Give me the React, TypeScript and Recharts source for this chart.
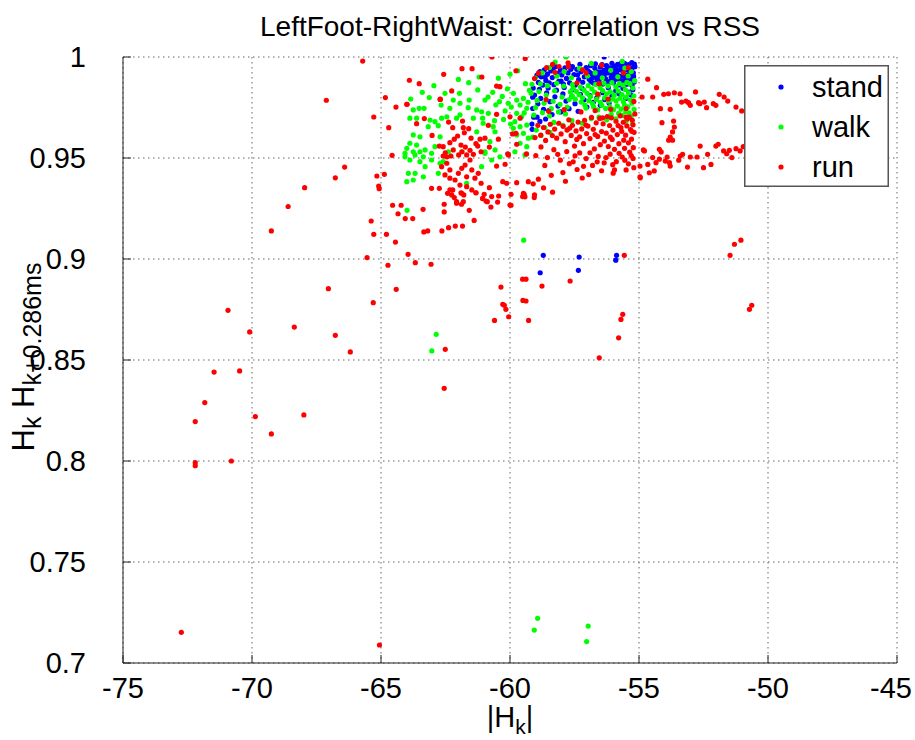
import React from 'react';
import { ScatterChart, Scatter, XAxis, YAxis, CartesianGrid, Legend, Label } from 'recharts';

// axis ticks
const xTicks = [-75, -70, -65, -60, -55, -50, -45];
const yTicks = [0.7, 0.75, 0.8, 0.85, 0.9, 0.95, 1];
const legendOrder = ['stand', 'walk', 'run'];

// stand (blue) — dense block top right plus a few strays
const standPoints: [number, number][] = [
  [-55.18, 0.9965], [-55.25, 0.9948], [-55.22, 0.9921], [-55.3, 0.9897], [-55.19, 0.9876], [-55.27, 0.9859],
  [-55.36, 0.9935], [-55.41, 0.9962], [-55.44, 0.9912], [-55.39, 0.9884], [-55.5, 0.9941], [-55.52, 0.9898],
  [-55.57, 0.9969], [-55.6, 0.9925], [-55.63, 0.9871], [-55.68, 0.9952], [-55.71, 0.9906], [-55.74, 0.9884],
  [-55.8, 0.9937], [-55.83, 0.9963], [-55.86, 0.9893], [-55.92, 0.9918], [-55.96, 0.9955], [-55.99, 0.9872],
  [-56.04, 0.9931], [-56.08, 0.9899], [-56.12, 0.9946], [-56.17, 0.9878], [-56.2, 0.9921], [-56.26, 0.9958],
  [-56.3, 0.9893], [-56.35, 0.9935], [-56.4, 0.9866], [-56.45, 0.9912], [-56.5, 0.9951], [-56.55, 0.9883],
  [-56.6, 0.9927], [-56.66, 0.9899], [-56.71, 0.9944], [-56.76, 0.9871], [-56.82, 0.9916], [-56.88, 0.9957],
  [-56.93, 0.989], [-56.98, 0.9931], [-55.33, 0.9888], [-55.47, 0.9865], [-55.55, 0.9912], [-55.66, 0.9935],
  [-55.77, 0.9862], [-55.89, 0.9941], [-56.01, 0.9908], [-56.14, 0.9923], [-56.24, 0.9874], [-56.37, 0.9901],
  [-56.48, 0.9925], [-56.63, 0.9876], [-56.79, 0.9899], [-56.91, 0.9924], [-55.21, 0.9904], [-55.28, 0.9972],
  [-55.46, 0.9938], [-55.58, 0.9882], [-55.7, 0.9968], [-55.85, 0.9915], [-56.05, 0.9969], [-56.22, 0.9943],
  [-56.43, 0.9962], [-56.69, 0.9966], [-55.35, 0.9916], [-55.64, 0.9905], [-55.95, 0.9886], [-56.32, 0.9918],
  [-56.57, 0.9905], [-56.86, 0.9878], [-55.24, 0.9838], [-55.4, 0.9826], [-55.62, 0.9845], [-55.9, 0.9832],
  [-56.19, 0.9848], [-55.31, 0.9812], [-55.51, 0.9795], [-56.41, 0.9823], [-56.05, 0.9807], [-55.78, 0.9819],
  [-57.05, 0.9948], [-57.12, 0.9902], [-57.18, 0.9875], [-57.25, 0.9927], [-57.29, 0.9964], [-57.34, 0.9888],
  [-57.41, 0.9939], [-57.47, 0.9861], [-57.52, 0.9913], [-57.58, 0.9952], [-57.64, 0.9939], [-57.69, 0.9872],
  [-57.75, 0.9921], [-57.81, 0.9894], [-57.87, 0.9946], [-57.93, 0.9866], [-57.99, 0.9911], [-58.05, 0.9935],
  [-58.11, 0.9879], [-58.17, 0.9918], [-58.24, 0.9952], [-58.3, 0.9863], [-58.36, 0.9898], [-58.42, 0.9931],
  [-58.48, 0.9872], [-58.55, 0.9915], [-58.61, 0.9884], [-58.67, 0.9937], [-58.73, 0.9861], [-58.79, 0.9902],
  [-58.84, 0.9927], [-58.9, 0.9874], [-58.96, 0.9909], [-57.21, 0.9845], [-57.56, 0.9838], [-57.9, 0.9849],
  [-58.2, 0.9836], [-58.52, 0.9847], [-58.86, 0.984], [-57.38, 0.9912], [-57.72, 0.9958], [-58.02, 0.9881],
  [-58.33, 0.9943], [-58.64, 0.9901], [-59.05, 0.9812], [-58.92, 0.9768], [-58.81, 0.9795], [-58.7, 0.9741],
  [-58.58, 0.9822], [-58.45, 0.9779], [-58.37, 0.9715], [-58.26, 0.9803], [-58.14, 0.9757], [-58.03, 0.9728],
  [-57.95, 0.9817], [-57.83, 0.9782], [-57.71, 0.9744], [-57.6, 0.9806], [-57.48, 0.9769], [-57.36, 0.9731],
  [-57.27, 0.9815], [-57.13, 0.9788], [-57.02, 0.9752], [-56.9, 0.9809], [-56.77, 0.9776], [-56.64, 0.9797],
  [-56.5, 0.9761], [-56.33, 0.9789], [-56.16, 0.9772], [-58.95, 0.9702], [-58.62, 0.9693], [-58.84, 0.9681],
  [-59.12, 0.9745], [-58.5, 0.9735], [-59.14, 0.9642], [-59.1, 0.9846], [-59.12, 0.9801], [-59.08, 0.9702],
  [-59.15, 0.9668], [-56.35, 1.0], [-55.57, 0.9969], [-55.16, 0.9952], [-58.84, 0.9927],
  [-58.71, 0.9018], [-58.83, 0.8932], [-57.32, 0.901], [-57.35, 0.8944], [-55.87, 0.9018], [-55.9, 0.8994],
];

// walk (green) — cloud from -64 to -55 plus outliers
const walkPoints: [number, number][] = [
  [-55.17, 0.9883], [-55.24, 0.9846], [-55.2, 0.9807], [-55.27, 0.9771], [-55.19, 0.9741], [-55.31, 0.9706],
  [-55.35, 0.9868], [-55.4, 0.9822], [-55.33, 0.9787], [-55.43, 0.9753], [-55.38, 0.9724], [-55.47, 0.9874],
  [-55.53, 0.9839], [-55.5, 0.9801], [-55.56, 0.9762], [-55.51, 0.9729], [-55.62, 0.9861], [-55.66, 0.9814],
  [-55.6, 0.9779], [-55.69, 0.9742], [-55.65, 0.9711], [-55.76, 0.9869], [-55.81, 0.9832], [-55.74, 0.9796],
  [-55.84, 0.9758], [-55.79, 0.9721], [-55.9, 0.9852], [-55.96, 0.9811], [-55.89, 0.9783], [-55.99, 0.9739],
  [-56.05, 0.9873], [-56.11, 0.9827], [-56.03, 0.9792], [-56.13, 0.9755], [-56.08, 0.9716], [-56.2, 0.9856],
  [-56.26, 0.9818], [-56.18, 0.9781], [-56.29, 0.9745], [-56.36, 0.9871], [-56.41, 0.9834], [-56.33, 0.9798],
  [-56.44, 0.9761], [-56.51, 0.9848], [-56.57, 0.9812], [-56.49, 0.9776], [-56.6, 0.9738], [-56.68, 0.9864],
  [-56.72, 0.9826], [-56.65, 0.979], [-56.76, 0.9753], [-56.83, 0.9842], [-56.88, 0.9804], [-56.8, 0.9769],
  [-56.97, 0.9858], [-57.01, 0.982], [-56.94, 0.9784], [-57.06, 0.9747], [-57.13, 0.9836], [-57.19, 0.9798],
  [-57.1, 0.9762], [-57.27, 0.9851], [-57.32, 0.9813], [-57.24, 0.9777], [-57.42, 0.9829], [-57.47, 0.9791],
  [-57.55, 0.9843], [-57.59, 0.9806], [-55.3, 0.9928], [-55.55, 0.9945], [-55.82, 0.9902], [-56.1, 0.9934],
  [-56.42, 0.9897], [-56.7, 0.9921], [-57.0, 0.9906], [-57.31, 0.9944], [-57.62, 0.9897], [-57.9, 0.9928],
  [-58.18, 0.9905], [-58.47, 0.9948], [-58.75, 0.9921], [-59.02, 0.9896], [-57.83, 1.0], [-58.25, 0.9975],
  [-56.85, 0.9968], [-55.65, 0.9978], [-55.42, 0.9906], [-57.58, 0.9863], [-57.66, 0.9827], [-57.71, 0.9789],
  [-57.78, 0.9752], [-57.85, 0.9718], [-57.92, 0.9856], [-57.98, 0.9802], [-58.06, 0.9765], [-58.12, 0.9728],
  [-58.19, 0.987], [-58.27, 0.9833], [-58.33, 0.9781], [-58.4, 0.9744], [-58.47, 0.9708], [-58.55, 0.9858],
  [-58.6, 0.9812], [-58.68, 0.9771], [-58.74, 0.9725], [-58.82, 0.9867], [-58.88, 0.9829], [-58.95, 0.9785],
  [-59.01, 0.9749], [-59.08, 0.9712], [-59.15, 0.9865], [-59.18, 0.9821], [-57.6, 0.9685], [-57.95, 0.9662],
  [-58.3, 0.9676], [-58.65, 0.9651], [-58.98, 0.9638], [-59.12, 0.9603], [-58.8, 0.9612], [-58.45, 0.9627],
  [-57.77, 0.9641], [-57.2, 0.9672], [-56.85, 0.9695], [-56.55, 0.9702], [-56.25, 0.9689], [-55.9, 0.9694],
  [-55.5, 0.9683], [-55.25, 0.9668], [-60.1, 0.9842], [-60.3, 0.9805], [-60.55, 0.9763], [-59.95, 0.9752],
  [-60.25, 0.9691], [-59.98, 0.9668], [-60.6, 0.9685], [-60.85, 0.9802], [-59.4, 0.9868], [-59.25, 0.9835],
  [-59.3, 0.9776], [-59.45, 0.9723], [-60.0, 0.9915], [-60.45, 0.9895], [-59.7, 0.9932], [-61.2, 0.9901],
  [-61.6, 0.9873], [-62.0, 0.9889], [-62.95, 0.9858], [-63.4, 0.9825], [-63.85, 0.9792],
  [-62.52, 0.982], [-61.96, 0.982], [-61.25, 0.9837], [-60.67, 0.9825], [-63.13, 0.9799], [-62.2, 0.9787],
  [-61.58, 0.9787], [-60.41, 0.9779], [-60.97, 0.9787], [-62.67, 0.9762], [-61.94, 0.9771], [-63.75, 0.9738],
  [-63.52, 0.9746], [-63.33, 0.9746], [-62.33, 0.9746], [-61.62, 0.9749], [-61.29, 0.9738], [-61.1, 0.9729],
  [-60.84, 0.9721], [-60.19, 0.9733], [-60.07, 0.9771], [-59.87, 0.982], [-59.74, 0.9787], [-59.61, 0.9762],
  [-59.48, 0.9795], [-59.35, 0.9746], [-59.74, 0.9721], [-59.55, 0.9704], [-59.81, 0.968], [-59.61, 0.9655],
  [-59.35, 0.9663], [-59.87, 0.9647], [-59.74, 0.9614], [-59.48, 0.9622], [-59.29, 0.9598], [-59.61, 0.9573],
  [-59.35, 0.9556], [-63.88, 0.9697], [-63.62, 0.9697], [-63.1, 0.9688], [-62.91, 0.968], [-63.17, 0.9655],
  [-62.78, 0.966], [-62.65, 0.9697], [-62.45, 0.9704], [-62.07, 0.9697], [-61.94, 0.9713], [-61.42, 0.9697],
  [-61.06, 0.9697], [-61.04, 0.9672], [-60.65, 0.9655], [-60.58, 0.963], [-61.29, 0.963], [-63.75, 0.9614],
  [-63.49, 0.9605], [-63.88, 0.9573], [-63.62, 0.9564], [-64.0, 0.9548], [-63.75, 0.9531], [-63.29, 0.954],
  [-63.04, 0.9523], [-62.91, 0.9556], [-63.36, 0.9506], [-64.07, 0.9506], [-62.71, 0.9605], [-60.97, 0.9523],
  [-60.58, 0.954], [-60.39, 0.9506], [-60.78, 0.9581], [-64.07, 0.9523], [-63.68, 0.9515], [-63.49, 0.9531],
  [-63.88, 0.949], [-63.49, 0.9482], [-63.04, 0.949], [-63.29, 0.9457], [-63.94, 0.9424], [-63.68, 0.9424],
  [-63.36, 0.9407], [-64.0, 0.9383], [-63.75, 0.9391], [-62.78, 0.9424], [-62.71, 0.9474], [-62.59, 0.9482],
  [-62.39, 0.9531], [-61.87, 0.9531], [-61.1, 0.9457], [-60.97, 0.9531], [-60.71, 0.949], [-59.81, 0.9531],
  [-59.42, 0.9515], [-61.68, 0.9375], [-63.99, 0.9241],
  [-59.47, 0.9093], [-62.86, 0.8627], [-63.03, 0.8545],
  [-58.93, 0.7221], [-59.06, 0.7163], [-56.97, 0.7183], [-57.03, 0.7106],
];

// run (red) — scattered outliers on the left and below
const runSparse: [number, number][] = [
  [-72.74, 0.7152], [-65.06, 0.7089], [-72.2, 0.7992], [-72.2, 0.7977], [-70.8, 0.8], [-69.25, 0.8134],
  [-72.2, 0.8195], [-69.87, 0.822], [-67.99, 0.8228], [-71.83, 0.8289], [-71.47, 0.844], [-70.48, 0.8446],
  [-66.19, 0.854], [-66.77, 0.8622], [-68.36, 0.8663], [-70.09, 0.8639], [-70.93, 0.8746], [-65.3, 0.8784],
  [-67.04, 0.8853], [-62.55, 0.836], [-62.51, 0.8553], [-69.25, 0.9139], [-68.6, 0.926], [-67.96, 0.9353],
  [-66.77, 0.9402], [-66.41, 0.9455], [-67.12, 0.9786], [-65.38, 0.9188], [-65.28, 0.9122], [-65.54, 0.9007],
  [-64.79, 0.9122], [-64.44, 0.9084], [-64.73, 0.8969], [-64.41, 0.885], [-64.55, 0.9266], [-64.22, 0.9266],
  [-64.34, 0.9224], [-64.06, 0.92], [-63.77, 0.92], [-63.95, 0.9023], [-63.67, 0.8982], [-63.06, 0.8974],
  [-63.37, 0.9246], [-63.34, 0.9134], [-63.19, 0.9139], [-62.64, 0.9139], [-62.38, 0.9155], [-62.12, 0.9163],
  [-61.84, 0.9163], [-61.39, 0.9191], [-62.55, 0.9233], [-62.55, 0.9271], [-61.58, 0.9241], [-61.88, 0.9271],
  [-62.07, 0.9284], [-62.42, 0.9325], [-62.22, 0.9342], [-62.16, 0.9304], [-61.9, 0.9328], [-61.79, 0.9317],
  [-61.32, 0.9328], [-61.06, 0.9299], [-61.0, 0.932], [-60.93, 0.9287], [-60.74, 0.9257], [-60.44, 0.9312],
  [-60.48, 0.9282], [-59.96, 0.932], [-59.96, 0.9266], [-59.51, 0.9309], [-59.45, 0.932], [-59.06, 0.9304],
  [-55.57, 0.9018], [-59.51, 0.89], [-59.38, 0.89], [-58.76, 0.8866], [-57.67, 0.8891], [-60.35, 0.8861],
  [-59.5, 0.8795], [-59.38, 0.8792], [-60.28, 0.8776], [-60.22, 0.8771], [-60.16, 0.8751], [-60.05, 0.8714],
  [-60.6, 0.8696], [-59.28, 0.8696], [-55.63, 0.8726], [-55.7, 0.8701], [-55.79, 0.861], [-56.54, 0.8511],
  [-51.47, 0.9018], [-51.3, 0.9073], [-51.05, 0.9093], [-50.72, 0.8751], [-50.63, 0.8771],
  [-65.71, 0.998], [-60.7, 1.0], [-59.41, 0.9993], [-64.83, 0.9799], [-64.42, 0.9752], [-65.28, 0.9703],
  [-64.7, 0.965], [-64.57, 0.9513], [-65.16, 0.9411], [-64.87, 0.9419], [-65.09, 0.9361], [-65.07, 0.9348],
  [-63.9, 0.9885], [-63.52, 0.9868], [-62.57, 0.9914], [-61.86, 0.9942], [-61.47, 0.9942], [-61.09, 0.9901],
  [-63.99, 0.9766], [-62.7, 0.9791], [-59.77, 0.9932], [-60.52, 0.9856],
];

// run (red) — loops to the right of -55
const runRight: [number, number][] = [
  [-54.66, 0.989], [-54.32, 0.9848], [-54.88, 0.9802], [-54.47, 0.9802], [-54.04, 0.9815], [-53.86, 0.9818],
  [-53.63, 0.9823], [-53.41, 0.9818], [-52.81, 0.9827], [-53.35, 0.9777], [-53.18, 0.9782], [-53.08, 0.9774],
  [-52.69, 0.9774], [-52.47, 0.9777], [-51.89, 0.9815], [-51.7, 0.9802], [-51.56, 0.9782], [-53.01, 0.9761],
  [-52.64, 0.9769], [-52.38, 0.9749], [-52.12, 0.9769], [-52.02, 0.9761], [-51.24, 0.9752], [-51.02, 0.9733],
  [-54.17, 0.9744], [-53.79, 0.9741], [-54.11, 0.9675], [-53.66, 0.9683], [-53.63, 0.9653], [-53.7, 0.9629],
  [-53.79, 0.9604], [-53.85, 0.9588], [-53.7, 0.9588], [-54.79, 0.9535], [-54.47, 0.9502], [-54.21, 0.9494],
  [-54.66, 0.9468], [-54.34, 0.9477], [-53.91, 0.9505], [-53.98, 0.9485], [-53.82, 0.9477], [-53.4, 0.951],
  [-53.31, 0.9518], [-53.46, 0.9489], [-53.01, 0.9505], [-52.75, 0.9505], [-52.63, 0.9559], [-52.34, 0.9518],
  [-52.02, 0.9559], [-51.93, 0.9568], [-51.72, 0.9535], [-51.5, 0.9538], [-51.6, 0.9521], [-51.4, 0.9502],
  [-51.24, 0.9546], [-51.08, 0.9535], [-50.96, 0.9556], [-53.79, 0.946], [-53.12, 0.9455], [-52.5, 0.9452],
  [-52.21, 0.9468], [-54.6, 0.9427], [-54.41, 0.9436], [-54.95, 0.9402], [-54.21, 0.9543], [-54.14, 0.953],
  [-54.83, 0.954], [-54.96, 0.946], [-54.96, 0.9407],
];

// run (red) — blob around -62
const runBlobLeft: [number, number][] = [
  [-62.26, 0.9832], [-62.71, 0.979], [-64.0, 0.9766], [-63.32, 0.9695], [-63.62, 0.967], [-63.02, 0.9612],
  [-62.38, 0.9678], [-61.84, 0.9683], [-62.22, 0.965], [-61.81, 0.965], [-61.6, 0.9645], [-61.77, 0.9625],
  [-62.03, 0.9609], [-62.16, 0.9593], [-62.33, 0.9576], [-61.51, 0.9598], [-61.16, 0.9593], [-61.32, 0.9571],
  [-61.9, 0.9564], [-61.73, 0.9554], [-61.55, 0.9538], [-61.86, 0.9531], [-61.99, 0.9515], [-61.68, 0.9515],
  [-61.42, 0.9518], [-61.25, 0.9559], [-61.12, 0.9531], [-62.59, 0.9556], [-62.51, 0.9526], [-62.45, 0.9506],
  [-62.74, 0.9559], [-62.2, 0.954], [-62.29, 0.951], [-60.8, 0.9554], [-60.97, 0.9598], [-60.84, 0.9662],
  [-60.52, 0.9716], [-60.45, 0.9593], [-60.09, 0.9521], [-60.0, 0.9704], [-59.9, 0.9619], [-59.77, 0.9622],
  [-59.61, 0.9697], [-59.74, 0.9568], [-59.36, 0.952], [-60.39, 0.9853],
  [-62.59, 0.951], [-62.45, 0.9474], [-62.65, 0.9457], [-62.33, 0.9441], [-62.52, 0.9416], [-62.33, 0.94],
  [-62.13, 0.9391], [-62.0, 0.9424], [-61.87, 0.9449], [-61.74, 0.9465], [-61.55, 0.949], [-61.48, 0.9441],
  [-61.68, 0.9407], [-61.36, 0.94], [-61.23, 0.9424], [-61.94, 0.9366], [-61.68, 0.9358], [-61.48, 0.9342],
  [-62.33, 0.9342], [-62.26, 0.9317], [-61.87, 0.9325], [-62.07, 0.9276], [-61.81, 0.9284], [-63.04, 0.935],
  [-62.74, 0.935], [-61.12, 0.9375], [-60.8, 0.9353], [-61.32, 0.9328], [-61.06, 0.93], [-60.88, 0.9284],
  [-60.71, 0.9309], [-60.52, 0.946], [-60.19, 0.9469], [-60.06, 0.9515], [-60.28, 0.9383], [-60.13, 0.9375],
  [-59.74, 0.9378], [-59.29, 0.9383], [-59.42, 0.9308], [-59.48, 0.9325], [-60.0, 0.9267],
];

// run (red) — band under the stand/walk block, -59 to -55
const runBlobRight: [number, number][] = [
  [-55.16, 0.9718], [-55.23, 0.9664], [-55.19, 0.9627], [-55.29, 0.9593], [-55.22, 0.9551], [-55.26, 0.9687],
  [-55.38, 0.9702], [-55.33, 0.9641], [-55.41, 0.9575], [-55.36, 0.9529], [-55.47, 0.9659], [-55.52, 0.9613],
  [-55.45, 0.9694], [-55.56, 0.9548], [-55.61, 0.9677], [-55.67, 0.9632], [-55.59, 0.9588], [-55.73, 0.9709],
  [-55.78, 0.9571], [-55.7, 0.9651], [-55.84, 0.9616], [-55.89, 0.9682], [-55.95, 0.9543], [-56.01, 0.9638],
  [-56.07, 0.9699], [-56.04, 0.9592], [-56.14, 0.9661], [-56.19, 0.9557], [-56.27, 0.9623], [-56.23, 0.9705],
  [-56.34, 0.9584], [-56.39, 0.9669], [-56.45, 0.9631], [-56.52, 0.9696], [-56.5, 0.9566], [-56.6, 0.9607],
  [-56.66, 0.9674], [-56.73, 0.9545], [-56.77, 0.9642], [-56.84, 0.9701], [-56.9, 0.9596], [-56.98, 0.9658],
  [-57.03, 0.9621], [-57.11, 0.9687], [-57.15, 0.9571], [-57.22, 0.9644], [-57.3, 0.9605], [-57.36, 0.9678],
  [-57.44, 0.9634], [-57.5, 0.9559], [-57.58, 0.9662], [-57.63, 0.9612], [-57.72, 0.9689], [-57.79, 0.9638],
  [-57.86, 0.9581], [-57.94, 0.9657], [-58.02, 0.9619], [-58.11, 0.9672], [-58.19, 0.9598], [-58.27, 0.9643],
  [-58.36, 0.9611], [-58.44, 0.9667], [-58.53, 0.9629], [-58.62, 0.9587], [-58.7, 0.9651], [-58.81, 0.9613],
  [-58.92, 0.9662], [-59.03, 0.9601], [-55.28, 0.9632], [-55.5, 0.9703], [-55.81, 0.9661], [-56.11, 0.9603],
  [-56.41, 0.9699], [-56.7, 0.9616], [-57.06, 0.9663], [-57.41, 0.9592], [-57.68, 0.9648],
  [-55.23, 0.9498], [-55.41, 0.9471], [-55.65, 0.9505], [-55.88, 0.9482], [-56.12, 0.9519], [-56.35, 0.9476],
  [-56.58, 0.9508], [-56.8, 0.9463], [-57.05, 0.9497], [-57.3, 0.9525], [-57.55, 0.9481], [-57.8, 0.9532],
  [-58.05, 0.9489], [-58.3, 0.9541], [-58.55, 0.9502], [-58.8, 0.9555], [-59.0, 0.9512], [-55.5, 0.9441],
  [-56.0, 0.9425], [-56.45, 0.9437], [-56.95, 0.9418], [-57.4, 0.9443], [-57.95, 0.9428], [-58.4, 0.9414],
  [-58.9, 0.9395], [-59.1, 0.9372], [-58.7, 0.9352], [-58.35, 0.9331], [-59.05, 0.9318], [-57.85, 0.9385],
  [-57.2, 0.9401], [-55.3, 0.9512], [-55.55, 0.9489], [-55.77, 0.9523], [-56.02, 0.9467], [-56.28, 0.9502],
  [-56.62, 0.9481], [-56.9, 0.9526], [-57.15, 0.9459], [-57.48, 0.9511], [-57.7, 0.9472], [-58.15, 0.9518],
  [-58.65, 0.9463], [-55.2, 0.9452], [-55.95, 0.9441],
  [-55.5, 0.9745], [-56.1, 0.9741], [-56.7, 0.9735], [-57.25, 0.9728], [-57.9, 0.9739], [-58.5, 0.9731],
  [-55.2, 0.978], [-56.6, 0.9816], [-57.4, 0.9872], [-57.05, 0.9921], [-58.1, 0.9953], [-58.6, 0.9789],
  [-59.05, 0.9893], [-55.6, 0.9921], [-56.2, 0.9792], [-58.35, 0.9963], [-57.75, 0.9971], [-56.55, 0.9868],
  [-58.58, 0.9947], [-58.9, 0.992], [-58.26, 0.9924], [-57.74, 0.9952], [-57.18, 0.9936], [-56.45, 0.996],
  [-55.41, 0.9947],
];

const toRows = (pts: [number, number][]) => pts.map(([x, y]) => ({ x, y }));
const standData = toRows(standPoints);
const walkData = toRows(walkPoints);
const runData = toRows([...runSparse, ...runRight, ...runBlobLeft, ...runBlobRight]);

const FONT = '"Liberation Sans", Arial, Helvetica, sans-serif';

const Dot = (props: any) => <circle cx={props.cx} cy={props.cy} r={2.6} fill={props.fill} />;
const NoDot = () => null;

// x tick: keep the last label inside the picture
const XTick = (props: any) => {
  const { x, y, payload } = props;
  const nearEdge = x > 880;
  return (
    <text
      x={nearEdge ? 912 : x}
      y={y}
      dy="0.71em"
      textAnchor={nearEdge ? 'end' : 'middle'}
      fontSize={29}
      fontFamily={FONT}
      fill="#000"
    >
      {payload.value}
    </text>
  );
};

const renderLegend = (props: any) => {
  const items = [...(props.payload || [])]
    .filter((e: any) => legendOrder.includes(e.value))
    .sort((a: any, b: any) => legendOrder.indexOf(a.value) - legendOrder.indexOf(b.value));
  return (
    <svg width={145} height={122} style={{ display: 'block' }}>
      <rect x={0.75} y={0.75} width={143.5} height={120.5} fill="#fff" stroke="#555" strokeWidth={1.5} />
      {items.map((entry: any, i: number) => (
        <g key={entry.value}>
          <circle cx={37} cy={22 + i * 40} r={2.6} fill={entry.color} />
          <text x={68} y={22 + i * 40} dominantBaseline="central" fontSize={29} fontFamily={FONT} fill="#000">
            {entry.value}
          </text>
        </g>
      ))}
    </svg>
  );
};

export default function App() {
  return (
    <div style={{ position: 'absolute', left: 0, top: 0, width: 915, height: 740, background: '#fff' }}>
      <ScatterChart width={915} height={740} margin={{ top: 57, right: 18, bottom: 17, left: 23 }}>
        <CartesianGrid stroke="#666" strokeDasharray="1.5 3.5" />
        <XAxis
          type="number"
          dataKey="x"
          domain={[-75, -45]}
          ticks={xTicks}
          allowDataOverflow
          height={60}
          stroke="#222"
          tickSize={-8}
          tickMargin={22}
          tick={<XTick />}
        >
          <Label
            content={() => (
              <text x={510} y={727} textAnchor="middle" fontFamily={FONT} fontSize={29} fill="#000">
                |H<tspan dy={7} fontSize={21}>k</tspan><tspan dy={-7}>|</tspan>
              </text>
            )}
          />
          <Label
            content={() => (
              <text x={510} y={36} textAnchor="middle" fontFamily={FONT} fontSize={28} fill="#000">
                LeftFoot-RightWaist: Correlation vs RSS
              </text>
            )}
          />
        </XAxis>
        <XAxis
          xAxisId="top"
          orientation="top"
          type="number"
          dataKey="x"
          domain={[-75, -45]}
          ticks={xTicks}
          allowDataOverflow
          height={0}
          stroke="#222"
          tickSize={-8}
          tick={false}
        />
        <YAxis
          type="number"
          dataKey="y"
          domain={[0.7, 1]}
          ticks={yTicks}
          allowDataOverflow
          width={100}
          stroke="#222"
          tickSize={-8}
          tickMargin={45}
          tickFormatter={(v: number) => String(+v.toFixed(2))}
          tick={{ fill: '#000', fontSize: 29, fontFamily: FONT }}
        >
          <Label
            content={() => (
              <text transform="translate(34,357) rotate(-90)" textAnchor="middle" fontFamily={FONT} fontSize={31} fill="#000">
                H<tspan dy={7} fontSize={25}>k</tspan>
                <tspan dy={-7}> H</tspan>
                <tspan dy={7} fontSize={25}>k+0.286ms</tspan>
              </text>
            )}
          />
        </YAxis>
        <YAxis
          yAxisId="right"
          orientation="right"
          type="number"
          dataKey="y"
          domain={[0.7, 1]}
          ticks={yTicks}
          allowDataOverflow
          width={0}
          stroke="#222"
          tickSize={-8}
          tick={false}
        />
        <Legend
          layout="vertical"
          align="center"
          verticalAlign="middle"
          content={renderLegend}
          wrapperStyle={{ left: 744, top: 65, width: 145, height: 122 }}
        />
        {/* invisible copy so the top and right frame axes get a domain */}
        <Scatter
          xAxisId="top"
          yAxisId="right"
          data={standData}
          shape={NoDot}
          legendType="none"
          isAnimationActive={false}
        />
        <Scatter name="stand" data={standData} fill="#0000ff" shape={Dot} isAnimationActive={false} />
        <Scatter name="walk" data={walkData} fill="#00ff00" shape={Dot} isAnimationActive={false} />
        <Scatter name="run" data={runData} fill="#ff0000" shape={Dot} isAnimationActive={false} />
      </ScatterChart>
    </div>
  );
}
